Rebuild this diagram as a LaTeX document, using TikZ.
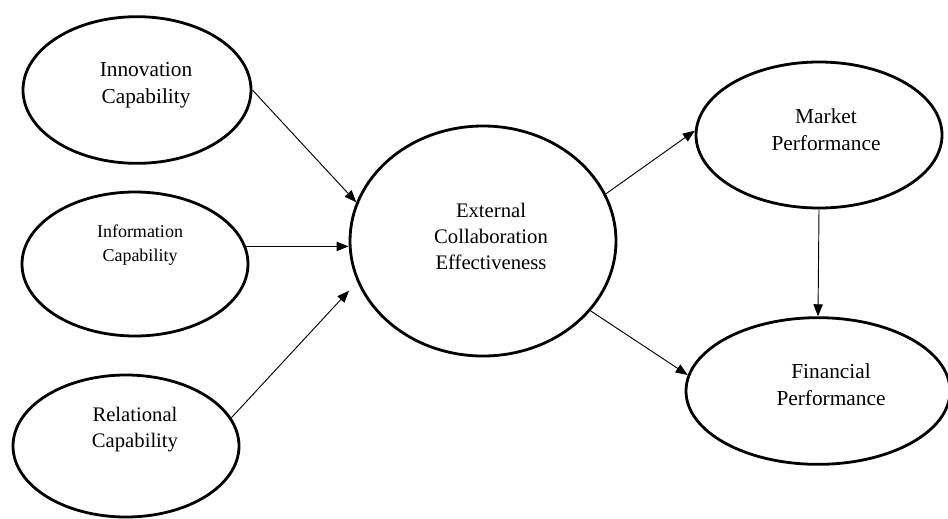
\documentclass[tikz,border=0pt]{standalone}
\usepackage{fontspec}
\setmainfont{Liberation Serif}
\usetikzlibrary{shapes.geometric,arrows.meta}

\tikzset{
    var/.style={draw,ellipse,line width=2.1pt,inner sep=0pt},
    txt/.style={align=center,font=\fontsize{16}{20}\selectfont},
    link/.style={-{Triangle[length=9pt,width=7pt]},line width=0.7pt}
}

\begin{document}
\begin{tikzpicture}[x=0.75pt,y=-0.75pt]
        \useasboundingbox (0,0) rectangle (948,518);
        \node[var,minimum width=171pt,minimum height=110pt] (innov) at (137,90) {};
        \node[var,minimum width=169.5pt,minimum height=108pt] (info) at (135,264) {};
        \node[var,minimum width=169.5pt,minimum height=106.5pt] (rel) at (126,446) {};
        \node[var,minimum width=199.5pt,minimum height=172.5pt] (ext) at (483,241) {};
        \node[var,minimum width=184.5pt,minimum height=109.5pt] (mkt) at (819,135) {};
        \node[var,minimum width=198pt,minimum height=110pt] (fin) at (818,391) {};
        \node[txt] (innovtxt) at (146,85) {Innovation\\Capability};
        \node[txt,font=\fontsize{13.5}{18}\selectfont] (infotxt) at (140,245) {Information\\Capability};
        \node[txt,font=\fontsize{15.5}{19.5}\selectfont] (reltxt) at (135,430) {Relational\\Capability};
        \node[txt,font=\fontsize{15.5}{19.5}\selectfont] (exttxt) at (491,236) {External\\Collaboration\\Effectiveness};
        \node[txt] (mkttxt) at (826,130) {Market\\Performance};
        \node[txt] (fintxt) at (831,385) {Financial\\Performance};
        \draw[link] (innov.east) -- (ext.163);
        \draw[link] (info.9) -- (info.9 -| ext.west);
        \draw[link,shorten >=9pt] (rel.15) -- (ext.198);
        \draw[link] (ext.21) -- (mkt.178);
        \draw[link] (ext.-33) -- (fin.173);
        \draw[link] (mkt.south) -- (fin.north);
    \end{tikzpicture}
\end{document}
